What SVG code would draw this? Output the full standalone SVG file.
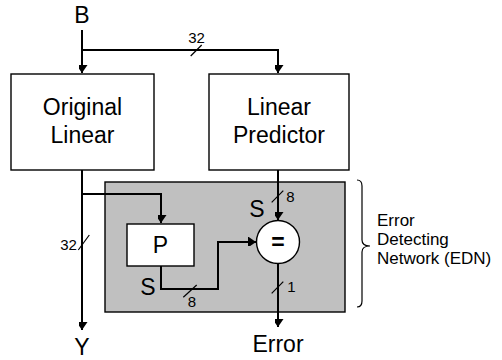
<svg xmlns="http://www.w3.org/2000/svg" width="502" height="360" viewBox="0 0 502 360">
<defs>
<marker id="ah" markerUnits="userSpaceOnUse" markerWidth="12" markerHeight="9" refX="8" refY="5.5" orient="auto">
<path d="M0,0 L8,5.5 L0,11 Z" fill="#000"/>
</marker>
<style>
.big{font-family:"Liberation Sans",Arial,sans-serif;font-size:23px;fill:#000}
.sm{font-family:"Liberation Sans",Arial,sans-serif;font-size:15px;fill:#000}
.side{font-family:"Liberation Sans",Arial,sans-serif;font-size:17px;fill:#000}
.box{fill:#fff;stroke:#000;stroke-width:1.4}
.wire{fill:none;stroke:#000;stroke-width:2}
.arr{fill:none;stroke:#000;stroke-width:2;marker-end:url(#ah)}
.tick{stroke:#000;stroke-width:1.2}
</style>
</defs>
<rect width="502" height="360" fill="#fff"/>
<g id="edn">
<rect x="105" y="182" width="240" height="130" fill="#c0c0c0" stroke="#000" stroke-width="1.4"/>
</g>
<g id="original">
<rect class="box" x="11" y="74" width="143" height="96"/>
<text class="big" x="82.5" y="115" text-anchor="middle">Original</text>
<text class="big" x="82.5" y="143" text-anchor="middle">Linear</text>
</g>
<g id="predictor">
<rect class="box" x="209" y="74" width="140" height="96"/>
<text class="big" x="279" y="115" text-anchor="middle">Linear</text>
<text class="big" x="279" y="143" text-anchor="middle">Predictor</text>
</g>
<g id="p">
<rect class="box" x="127" y="224" width="67" height="42"/>
<text class="big" x="160.5" y="253" text-anchor="middle">P</text>
</g>
<g id="cmp">
<circle cx="278" cy="242" r="21.5" fill="#fff" stroke="#000" stroke-width="1.4"/>
<text class="big" x="278" y="250" text-anchor="middle" font-weight="bold">=</text>
</g>
<g id="connectors">
<path class="arr" d="M82,30 V73"/>
<path class="arr" d="M82,50 H278 V73"/>
<path class="arr" d="M82,170 V330"/>
<path class="arr" d="M82,194 H161 V223"/>
<path class="arr" d="M278,170 V220"/>
<path class="arr" d="M161,266 V289 H218 V242 H256"/>
<path class="arr" d="M278,264 V327"/>
<line class="tick" x1="190.7" y1="56" x2="201.7" y2="45"/>
<line class="tick" x1="78.3" y1="250" x2="89.3" y2="235"/>
<line class="tick" x1="183.3" y1="297.3" x2="196.7" y2="285"/>
<line class="tick" x1="271.7" y1="202.3" x2="283.3" y2="190.7"/>
<line class="tick" x1="271.7" y1="293.3" x2="283.3" y2="281.7"/>
</g>
<g id="labels">
<text class="big" x="82" y="23" text-anchor="middle">B</text>
<text class="big" x="82" y="355" text-anchor="middle">Y</text>
<text class="big" x="278" y="352" text-anchor="middle">Error</text>
<text class="big" x="148" y="295" text-anchor="middle">S</text>
<text class="big" x="257" y="217" text-anchor="middle">S</text>
<text class="sm" x="196.5" y="43.3" text-anchor="middle">32</text>
<text class="sm" x="68.5" y="250" text-anchor="middle">32</text>
<text class="sm" x="192" y="306.7" text-anchor="middle">8</text>
<text class="sm" x="290.5" y="202.3" text-anchor="middle">8</text>
<text class="sm" x="291.5" y="291.7" text-anchor="middle">1</text>
</g>
<g id="brace">
<path d="M357,180 Q362,180 362,186 L362,240 Q362,246 370,246 Q362,246 362,252 L362,301 Q362,307 357,307" fill="none" stroke="#000" stroke-width="1.2"/>
<text class="side" x="377" y="226">Error</text>
<text class="side" x="377" y="245">Detecting</text>
<text class="side" x="377" y="264">Network (EDN)</text>
</g>
</svg>
